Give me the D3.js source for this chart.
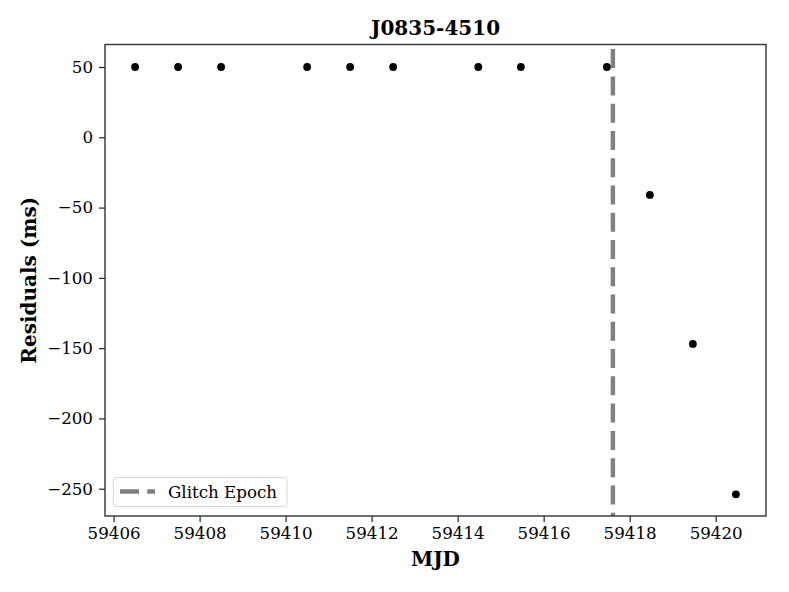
<!DOCTYPE html>
<html>
<head>
<meta charset="utf-8">
<script src="https://cdn.jsdelivr.net/npm/d3@7"></script>
<style>
  html, body { margin: 0; padding: 0; background: #fff; }
  svg { display: block; }
  text { font-family: "DejaVu Serif", serif; fill: #000; }
</style>
</head>
<body>
<svg id="chart" width="789" height="592"></svg>
<script>
// ---- data ----
const title = "J0835-4510";
const xLabel = "MJD";
const yLabel = "Residuals (ms)";
const mjd = [59406.5, 59407.5, 59408.5, 59410.5, 59411.5, 59412.5, 59414.48, 59415.47, 59417.47, 59418.47, 59419.47, 59420.47];
const residuals = [50, 50, 50, 50, 50, 50, 50, 50, 50, -41, -147, -254];
const glitchEpoch = 59417.61;
const legendLabel = "Glitch Epoch";
const xTicks = [59406, 59408, 59410, 59412, 59414, 59416, 59418, 59420];
const yTicks = [50, 0, -50, -100, -150, -200, -250];
const xDomain = [59405.80, 59421.17];
const yDomain = [-269.4, 66];

// ---- layout ----
const svg = d3.select("#chart");
const plot = { left: 105, right: 766, top: 44.5, bottom: 516 };

const x = d3.scaleLinear().domain(xDomain).range([plot.left, plot.right]);
const y = d3.scaleLinear().domain(yDomain).range([plot.bottom, plot.top]);

// glitch line (drawn bottom -> top like matplotlib)
svg.append("line")
  .attr("x1", x(glitchEpoch)).attr("x2", x(glitchEpoch))
  .attr("y1", y(yDomain[0])).attr("y2", y(yDomain[1]))
  .attr("stroke", "#808080")
  .attr("stroke-width", 4.4)
  .attr("stroke-dasharray", "19 8.27")
  .attr("stroke-dashoffset", 15.7);

// points
svg.append("g").selectAll("circle")
  .data(mjd.map((d, i) => [d, residuals[i]]))
  .join("circle")
  .attr("cx", d => x(d[0]))
  .attr("cy", d => y(d[1]))
  .attr("r", 3.9)
  .attr("fill", "#000");

// axes
const tickFont = "16.7px";
const xAxis = d3.axisBottom(x).tickValues(xTicks).tickFormat(d3.format("d")).tickSize(6).tickPadding(5);
const gx = svg.append("g").attr("transform", `translate(0,${plot.bottom})`).call(xAxis);
gx.select(".domain").remove();
gx.selectAll("line").attr("stroke", "#222").attr("stroke-width", 1.2);
gx.selectAll("text").attr("font-family", "DejaVu Serif").attr("font-size", tickFont).attr("fill", "#000");

const yAxis = d3.axisLeft(y).tickValues(yTicks).tickFormat(d3.format("d")).tickSize(6).tickPadding(6);
const gy = svg.append("g").attr("transform", `translate(${plot.left},0)`).call(yAxis);
gy.select(".domain").remove();
gy.selectAll("line").attr("stroke", "#222").attr("stroke-width", 1.2);
gy.selectAll("text").attr("font-family", "DejaVu Serif").attr("font-size", tickFont).attr("fill", "#000");

// frame
svg.append("rect")
  .attr("x", plot.left).attr("y", plot.top)
  .attr("width", plot.right - plot.left).attr("height", plot.bottom - plot.top)
  .attr("fill", "none").attr("stroke", "#333").attr("stroke-width", 1.4);

// title & labels
svg.append("text")
  .attr("x", (plot.left + plot.right) / 2).attr("y", 35)
  .attr("text-anchor", "middle").attr("font-weight", "bold").attr("font-size", "20px")
  .text(title);

svg.append("text")
  .attr("x", (plot.left + plot.right) / 2).attr("y", 566)
  .attr("text-anchor", "middle").attr("font-weight", "bold").attr("font-size", "20px")
  .text(xLabel);

svg.append("text")
  .attr("transform", `translate(36,${(plot.top + plot.bottom) / 2}) rotate(-90)`)
  .attr("text-anchor", "middle").attr("font-weight", "bold").attr("font-size", "20px")
  .text(yLabel);

// legend
const lg = svg.append("g");
lg.append("rect")
  .attr("x", 113.5).attr("y", 477.5).attr("width", 173.5).attr("height", 29)
  .attr("rx", 3).attr("ry", 3)
  .attr("fill", "#fff").attr("fill-opacity", 0.8)
  .attr("stroke", "#d6d6d6").attr("stroke-width", 1);
lg.append("line")
  .attr("x1", 120).attr("x2", 155).attr("y1", 491.5).attr("y2", 491.5)
  .attr("stroke", "#808080").attr("stroke-width", 4.4)
  .attr("stroke-dasharray", "19 8.27");
lg.append("text")
  .attr("x", 168).attr("y", 497.5)
  .attr("font-size", tickFont)
  .text(legendLabel);
</script>
</body>
</html>
